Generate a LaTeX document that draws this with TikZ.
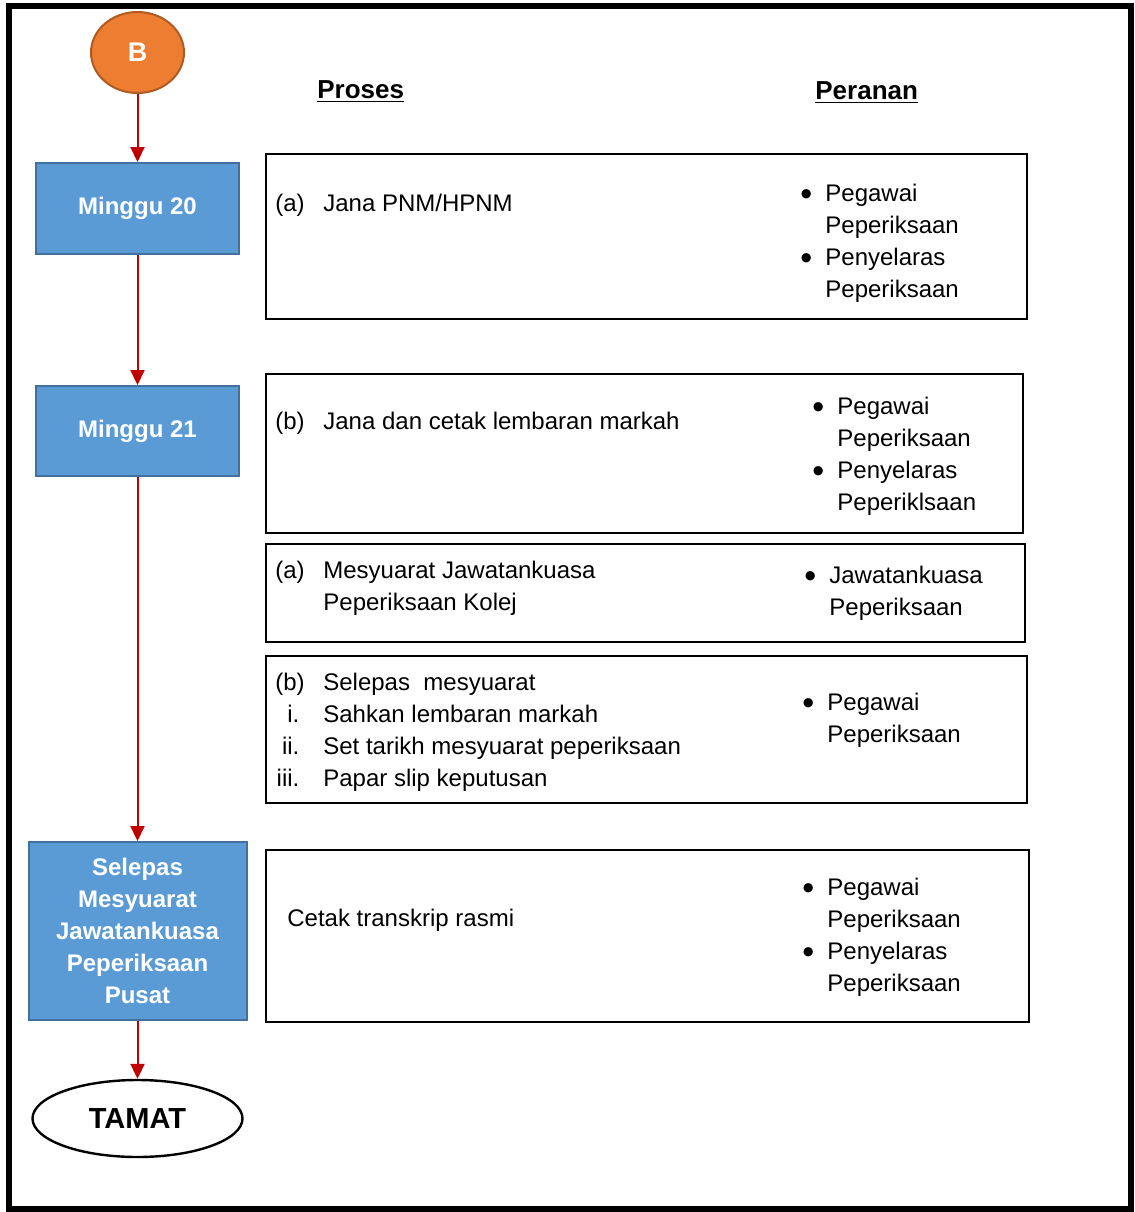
\documentclass[tikz,border=0pt]{standalone}
\usepackage{fontspec}
\setmainfont{Liberation Sans}
\usepackage{array}
\usetikzlibrary{arrows.meta, shapes.geometric}
\definecolor{myorange}{RGB}{237, 125, 49}
\definecolor{myorange2}{RGB}{174, 90, 33}
\definecolor{myblue}{RGB}{91, 155, 213}
\definecolor{myblue2}{RGB}{65, 113, 156}
\definecolor{myred}{RGB}{192, 0, 0}
\newcommand{\pbullet}{\makebox[4pt][c]{\raisebox{-2pt}{\fontsize{17}{16}\selectfont\textbullet}}}
\tikzset{>={Triangle[width=7pt, length=7.5pt]}}
\tikzset{
week/.style = {draw = myblue2, line width = 1pt, fill = myblue, text = white, font = \fontsize{12}{15.9}\selectfont\bfseries, align = center, inner sep = 0pt},
pbox/.style = {draw, line width = 1.2pt, inner sep = 0pt},
flow/.style = {->, draw = myred, line width = 1pt},
txt/.style = {anchor = base west, inner sep = 0pt, font = \fontsize{12}{16}\selectfont},
}

\begin{document}
\begin{tikzpicture}[x = 0.5pt, y = -0.5pt]
\useasboundingbox (0,0) rectangle (1135,1212);
\draw[line width = 3pt] (9,6) rectangle (1131,1209);

% left column
\node[ellipse, draw = myorange2, line width = 1pt, fill = myorange, text = white, font = \fontsize{13.5}{16}\selectfont\bfseries, minimum width = 46.5pt, minimum height = 40.5pt, inner sep = 0pt] (b) at (137.5,52.5) {B};
\node[week, minimum width = 101.5pt, minimum height = 45.5pt] (m20) at (137.5,208.5) {Minggu 20};
\node[week, minimum width = 101.5pt, minimum height = 45pt] (m21) at (137.5,431) {Minggu 21};
\node[week, minimum width = 109pt, minimum height = 89pt] (selepas) at (137.5,931) {Selepas\\ Mesyuarat\\ Jawatankuasa\\ Peperiksaan\\ Pusat};
\node[ellipse, draw, line width = 1.2pt, font = \fontsize{14.5}{17}\selectfont\bfseries, minimum width = 105pt, minimum height = 38.5pt, inner sep = 0pt] (tamat) at (137.5,1118.5) {TAMAT};
\draw[flow] (b) -- (m20);
\draw[flow] (m20) -- (m21);
\draw[flow] (m21) -- (selepas);
\draw[flow] (selepas) -- (tamat);

% headers
\node[txt, font = \fontsize{13}{16}\selectfont\bfseries] (proses) at (317,98) {\underline{Proses}};
\node[txt, font = \fontsize{13}{16}\selectfont\bfseries] (peranan) at (815,99) {\underline{Peranan}};

% boxes
\node[pbox, minimum width = 380.5pt, minimum height = 82.5pt] (p1) at (646.5,236.5) {};
\node[pbox, minimum width = 378.5pt, minimum height = 79.5pt] (p2) at (644.5,453.5) {};
\node[pbox, minimum width = 379.5pt, minimum height = 49pt] (p3) at (645.5,593) {};
\node[pbox, minimum width = 380.5pt, minimum height = 73.5pt] (p4) at (646.5,729.5) {};
\node[pbox, minimum width = 381.5pt, minimum height = 86pt] (p5) at (647.5,936) {};

% proses
\node[txt] (p1a) at (275,211) {\begin{tabular}[t]{@{}p{24pt}@{}l@{}}
(a) & Jana PNM/HPNM
\end{tabular}};
\node[txt] (p2a) at (275,429) {\begin{tabular}[t]{@{}p{24pt}@{}l@{}}
(b) & Jana dan cetak lembaran markah
\end{tabular}};
\node[txt] (p3a) at (275,578) {\begin{tabular}[t]{@{}p{24pt}@{}l@{}}
(a) & Mesyuarat Jawatankuasa\\
 & Peperiksaan Kolej
\end{tabular}};
\node[txt] (p4a) at (275,690) {\begin{tabular}[t]{@{}p{24pt}@{}l@{}}
(b) & Selepas\ \ mesyuarat\\
\makebox[12pt][r]{i.} & Sahkan lembaran markah\\
\makebox[12pt][r]{ii.} & Set tarikh mesyuarat peperiksaan\\
\makebox[12pt][r]{iii.} & Papar slip keputusan
\end{tabular}};
\node[txt] (p5a) at (287,926) {Cetak transkrip rasmi};

% peranan
\node[txt] (p1b) at (802,201) {\begin{tabular}[t]{@{}p{11.5pt}@{}l@{}}
\pbullet & Pegawai\\
 & Peperiksaan\\
\pbullet & Penyelaras\\
 & Peperiksaan
\end{tabular}};
\node[txt] (p2b) at (814,414) {\begin{tabular}[t]{@{}p{11.5pt}@{}l@{}}
\pbullet & Pegawai\\
 & Peperiksaan\\
\pbullet & Penyelaras\\
 & Peperiklsaan
\end{tabular}};
\node[txt] (p3b) at (806,583) {\begin{tabular}[t]{@{}p{11.5pt}@{}l@{}}
\pbullet & Jawatankuasa\\
 & Peperiksaan
\end{tabular}};
\node[txt] (p4b) at (804,710) {\begin{tabular}[t]{@{}p{11.5pt}@{}l@{}}
\pbullet & Pegawai\\
 & Peperiksaan
\end{tabular}};
\node[txt] (p5b) at (804,895) {\begin{tabular}[t]{@{}p{11.5pt}@{}l@{}}
\pbullet & Pegawai\\
 & Peperiksaan\\
\pbullet & Penyelaras\\
 & Peperiksaan
\end{tabular}};
\end{tikzpicture}
\end{document}
